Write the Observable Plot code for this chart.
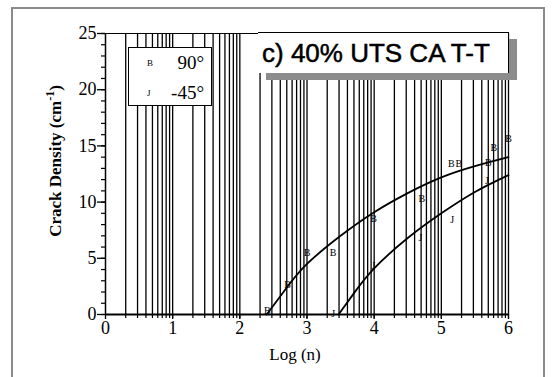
<!DOCTYPE html>
<html><head><meta charset="utf-8">
<script src="https://cdn.jsdelivr.net/npm/d3@7"></script>
<script src="https://cdn.jsdelivr.net/npm/@observablehq/plot@0.6"></script>
<style>
body{margin:0;background:#fff;}
#wrap{position:relative;width:552px;height:377px;overflow:hidden;background:#fff;}
#frame{position:absolute;left:11px;top:7px;width:530px;height:420px;border:2px solid #8a8a8a;pointer-events:none;}
#title{position:absolute;left:258px;top:32px;width:251px;height:41px;background:#fff;border-top:1px solid #000;border-right:1px solid #000;box-shadow:8px 7px 0 #8c8c8c;font-family:"Liberation Sans",Arial,sans-serif;font-size:26px;line-height:41px;padding-left:4px;box-sizing:border-box;white-space:nowrap;color:#000;-webkit-text-stroke:0.5px #000;}
#legend{position:absolute;left:128px;top:47px;width:84px;height:59px;background:#fff;border:1.5px solid #000;box-sizing:border-box;font-family:"Liberation Serif","Times New Roman",serif;color:#000;}
.lrow{position:absolute;left:0;width:100%;height:20px;line-height:20px;}
.lmark{position:absolute;left:18px;font-size:9px;}
.ltext{position:absolute;right:7px;font-size:19px;}
</style></head><body>
<div id="wrap"></div>
<script>
// ---- data ----
const xTickLabels = [0, 1, 2, 3, 4, 5, 6];
const yTickLabels = [0, 5, 10, 15, 20, 25];
const yMinorTicks = d3.range(0, 26);
const decadeMinors = [2, 3, 4, 5, 6, 7, 8, 9, 10];

const series = ["90°", "-45°"];
const markers = ["B", "J"];

// measured points, 90°
const pts90X = [2.41, 2.71, 3.0, 3.39, 3.99, 4.71, 5.15, 5.26, 5.70, 5.78, 6.0];
const pts90Y = [0.3, 2.6, 5.5, 5.5, 8.5, 10.3, 13.4, 13.4, 13.5, 14.8, 15.6];
// measured points, -45°
const ptsM45X = [3.39, 3.99, 4.69, 5.16, 5.68];
const ptsM45Y = [0.1, 4.3, 6.8, 8.4, 11.9];

// fitted curves
const fit90X = [2.4, 2.7, 3.0, 3.5, 4.0, 4.5, 5.0, 5.5, 6.0];
const fit90Y = [0, 2.4, 4.5, 7.0, 9.1, 10.8, 12.2, 13.2, 14.0];
const fitM45X = [3.47, 3.7, 4.0, 4.5, 5.0, 5.5, 6.0];
const fitM45Y = [0, 1.9, 4.1, 6.8, 9.0, 10.9, 12.4];

// ---- build ----
const gridX = xTickLabels.slice(0, 6).flatMap(d => decadeMinors.map(k => d + Math.log10(k)));
const zip = (xs, ys) => xs.map((x, i) => ({x, y: ys[i]}));
const pts90 = zip(pts90X, pts90Y);
const ptsM45 = zip(ptsM45X, ptsM45Y);
const fit90 = zip(fit90X, fit90Y);
const fitM45 = zip(fitM45X, fitM45Y);

const serif = "Liberation Serif, Times New Roman, serif";

const plot = Plot.plot({
  width: 552, height: 377,
  marginLeft: 105, marginRight: 44, marginTop: 33, marginBottom: 63,
  style: {background: "transparent", fontFamily: serif, color: "#000"},
  x: {domain: [0, 6], label: null},
  y: {domain: [0, 25], label: null},
  marks: [
    Plot.ruleX(gridX, {y1: 0, y2: 25, stroke: "#000", strokeWidth: 1.3}),
    Plot.ruleX([0], {y1: 0, y2: 25, stroke: "#000", strokeWidth: 1.5}),
    Plot.ruleY([25], {x1: 0, x2: 6, stroke: "#000", strokeWidth: 1.2}),
    Plot.axisY({ticks: yMinorTicks, tickSize: 4, text: null, strokeWidth: 1.2}),
    Plot.axisY({ticks: yTickLabels, tickSize: 8, tickPadding: 1, fontSize: 18, fontFamily: serif, strokeWidth: 1.3}),
    Plot.axisX({ticks: gridX, tickSize: 4, text: null, strokeWidth: 1.2}),
    Plot.axisX({ticks: xTickLabels, tickSize: 5, tickPadding: 2, tickFormat: "d", fontSize: 18, fontFamily: serif, strokeWidth: 1.3}),
    Plot.ruleY([0], {x1: 0, x2: 6, stroke: "#000", strokeWidth: 2.2}),
    Plot.line(fit90, {x: "x", y: "y", curve: "natural", stroke: "#000", strokeWidth: 1.8}),
    Plot.line(fitM45, {x: "x", y: "y", curve: "natural", stroke: "#000", strokeWidth: 1.8}),
    Plot.text(pts90, {x: "x", y: "y", text: () => markers[0], fontSize: 10, fontFamily: serif, fill: "#000"}),
    Plot.text(ptsM45, {x: "x", y: "y", text: () => markers[1], fontSize: 10, fontFamily: serif, fill: "#000"}),
    Plot.text(["Log (n)"], {frameAnchor: "bottom", dx: -12, dy: 45, fontSize: 17, fontFamily: serif, fill: "#000", letterSpacing: "1px"})
  ]
});

const wrap = document.getElementById("wrap");
wrap.appendChild(plot);

// rotated y-axis title with superscript
const svg = d3.select(plot);
const yt = svg.append("text")
  .attr("transform", "translate(61,161) rotate(-90)")
  .attr("text-anchor", "middle")
  .attr("font-family", serif)
  .attr("font-weight", "bold")
  .attr("font-size", 17)
  .attr("fill", "#000");
yt.append("tspan").text("Crack Density (cm");
yt.append("tspan").attr("dy", -7).attr("font-size", 12).text("-1");
yt.append("tspan").attr("dy", 7).text(")");

// title box
const title = document.createElement("div");
title.id = "title";
title.textContent = "c) 40% UTS CA T-T";
wrap.appendChild(title);

// legend box
const legend = document.createElement("div");
legend.id = "legend";
series.forEach((s, i) => {
  const row = document.createElement("div");
  row.className = "lrow";
  row.style.top = (5 + i * 30) + "px";
  const m = document.createElement("span"); m.className = "lmark"; m.textContent = markers[i];
  const t = document.createElement("span"); t.className = "ltext"; t.textContent = s;
  row.appendChild(m); row.appendChild(t);
  legend.appendChild(row);
});
wrap.appendChild(legend);

// outer frame
const frame = document.createElement("div");
frame.id = "frame";
wrap.appendChild(frame);
</script>
</body></html>
